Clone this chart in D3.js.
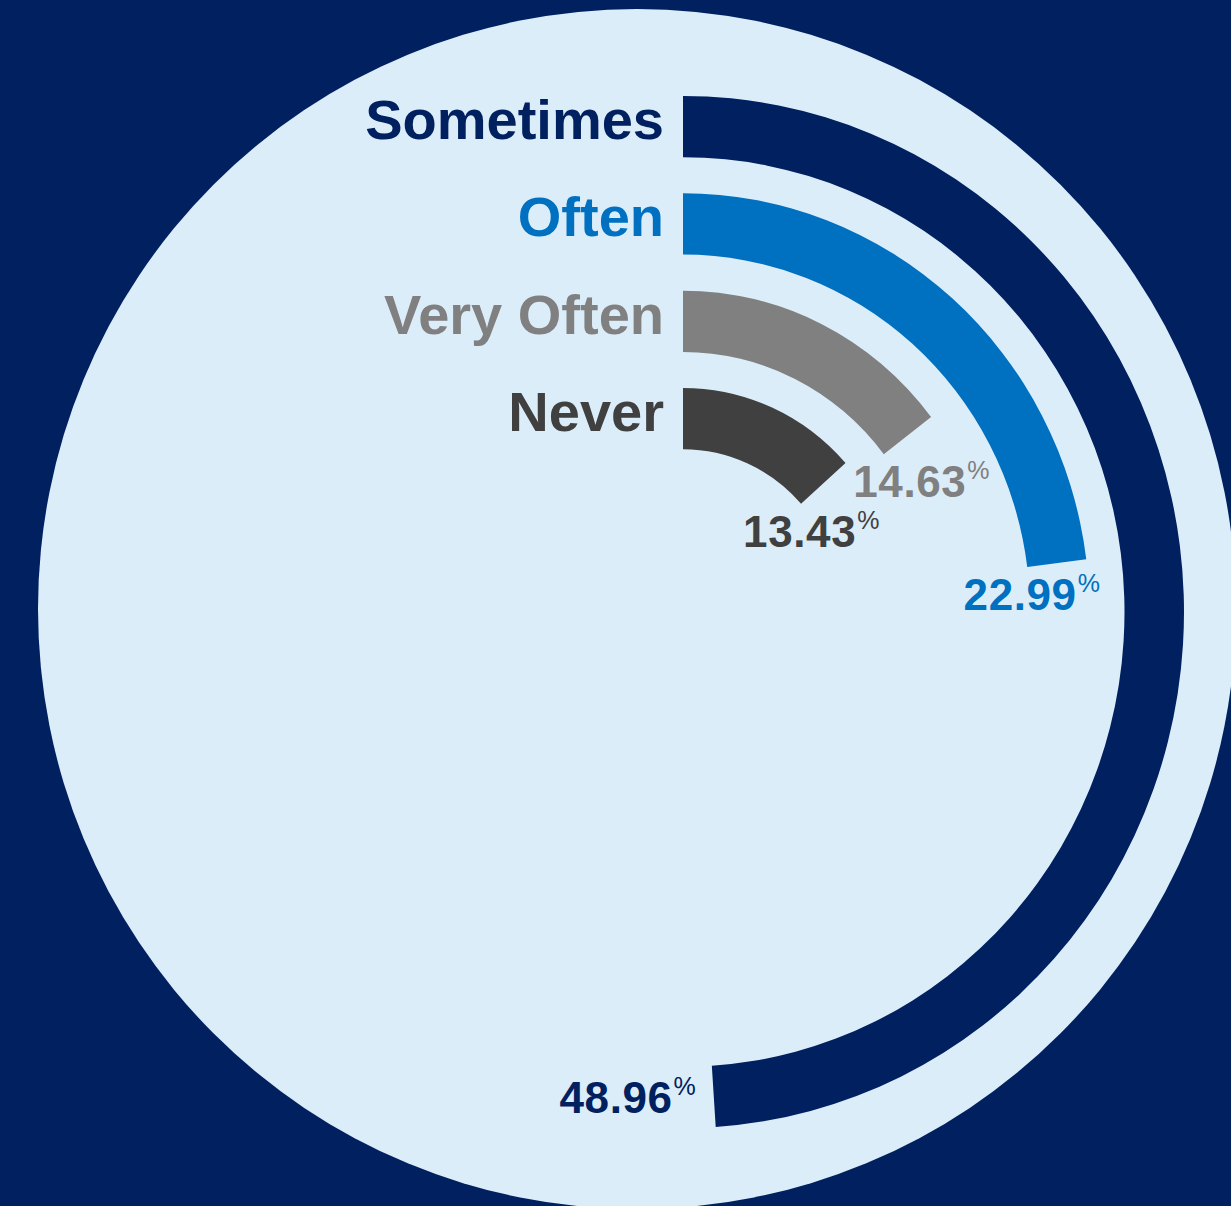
<!DOCTYPE html>
<html>
<head>
<meta charset="utf-8">
<script src="https://cdn.jsdelivr.net/npm/d3@7"></script>
<style>
  html, body { margin: 0; padding: 0; background: #002060; }
  svg { display: block; }
  text { font-family: "Liberation Sans", Arial, Helvetica, sans-serif; }
</style>
</head>
<body>
<svg id="chart" width="1231" height="1206"></svg>
<script>
// ---- data ----
const categories = ["Sometimes", "Often", "Very Often", "Never"];
const values = [48.96, 22.99, 14.63, 13.43];
const colors = ["#002060", "#0070C0", "#808080", "#404040"];

// ---- layout ----
const W = 1231, H = 1206;
const cx = 683, cy = 612, sy = 1.03;
const thickness = 59.5;
const labelNudge = [0, -20, 19, -7]; // horizontal nudge of value labels

const svg = d3.select("#chart");
svg.append("rect").attr("width", W).attr("height", H).attr("fill", "#002060");

// light backdrop disc
svg.append("ellipse")
  .attr("cx", 637).attr("cy", 609)
  .attr("rx", 599).attr("ry", 600)
  .attr("fill", "#DCEDFA");

const angle = d3.scaleLinear().domain([0, 100]).range([0, 2 * Math.PI]);
const radius = d3.scaleLinear().domain([0, categories.length - 1]).range([501, 217.5]);

const data = categories.map((c, i) => ({
  cat: c, value: values[i], color: colors[i], nudge: labelNudge[i],
  outer: radius(i), inner: radius(i) - thickness
}));

const arc = d3.arc()
  .innerRadius(d => d.inner)
  .outerRadius(d => d.outer)
  .startAngle(0)
  .endAngle(d => angle(d.value));

const g = svg.append("g").attr("transform", `translate(${cx},${cy}) scale(1,${sy})`);
g.selectAll("path.ring").data(data).join("path")
  .attr("class", "ring")
  .attr("d", arc)
  .attr("fill", d => d.color);

// category labels
svg.selectAll("text.cat").data(data).join("text")
  .attr("class", "cat")
  .attr("x", cx - 19)
  .attr("y", d => cy - sy * d.outer + 43)
  .attr("text-anchor", "end")
  .attr("font-size", 56)
  .attr("font-weight", "bold")
  .attr("fill", d => d.color)
  .text(d => d.cat);

// value labels near arc ends
function endPt(r, a) {
  return [cx + r * Math.sin(a), cy - sy * r * Math.cos(a)];
}
const vl = svg.selectAll("text.val").data(data).join("text")
  .attr("class", "val")
  .attr("font-size", 44)
  .attr("font-weight", "bold")
  .attr("letter-spacing", 0.6)
  .attr("fill", d => d.color)
  .each(function(d) {
    const a = angle(d.value);
    const po = endPt(d.outer, a), pi = endPt(d.inner, a);
    const t = d3.select(this);
    if (a > Math.PI * 0.75) {
      const minX = Math.min(po[0], pi[0]);
      const midY = (po[1] + pi[1]) / 2;
      t.attr("x", minX - 16 + d.nudge).attr("y", midY + 17).attr("text-anchor", "end");
    } else {
      const midX = (po[0] + pi[0]) / 2;
      const maxY = Math.max(po[1], pi[1]);
      t.attr("x", midX - 5 + d.nudge).attr("y", maxY + 43).attr("text-anchor", "middle");
    }
  });
vl.append("tspan").text(d => d.value.toFixed(2));
vl.append("tspan")
  .attr("dy", -18)
  .attr("dx", 1)
  .attr("font-size", 25)
  .attr("font-weight", "normal")
  .attr("letter-spacing", 0)
  .text("%");
</script>
</body>
</html>
